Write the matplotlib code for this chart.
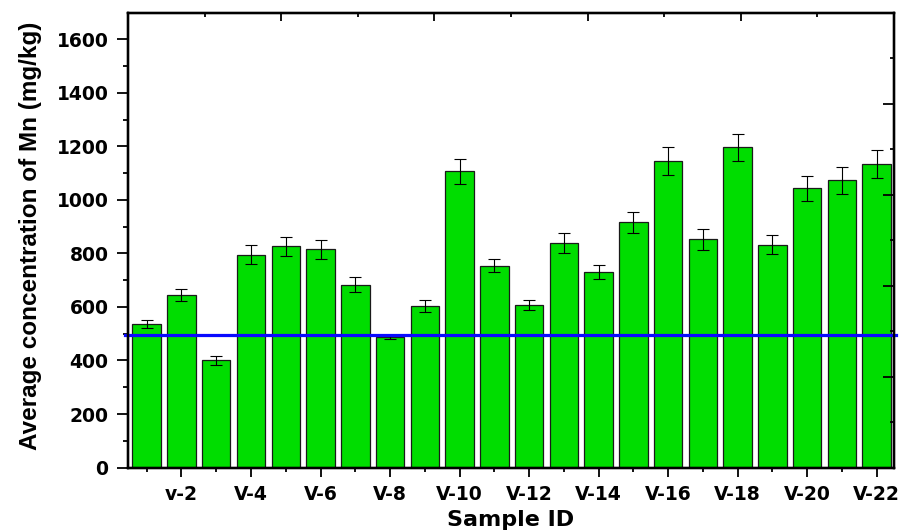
import numpy as np
import matplotlib
matplotlib.use('Agg')
import matplotlib.pyplot as plt
from matplotlib.ticker import FixedLocator, NullFormatter

# Sample IDs and measured Mn concentrations (mg/kg)
samples = ['V-1', 'v-2', 'V-3', 'V-4', 'V-5', 'V-6', 'V-7', 'V-8', 'V-9', 'V-10', 'V-11',
           'V-12', 'V-13', 'V-14', 'V-15', 'V-16', 'V-17', 'V-18', 'V-19', 'V-20', 'V-21', 'V-22']
mn_mean = [536, 646, 400, 796, 827, 815, 684, 488, 604, 1107, 754,
           607, 839, 731, 916, 1147, 853, 1197, 833, 1043, 1074, 1135]
mn_err = [15, 22, 17, 35, 36, 34, 29, 6, 21, 47, 25,
          20, 38, 27, 38, 52, 39, 50, 36, 48, 51, 53]
limit_value = 495  # reference line

x = np.arange(1, len(samples) + 1)

fig = plt.figure(figsize=(9.14, 5.32), dpi=100)
ax = fig.add_axes([0.1400, 0.1212, 0.8381, 0.855])

ax.bar(x, mn_mean, width=0.82, color='#00DD00', edgecolor='#1a1a1a', linewidth=0.9, zorder=2)
ax.errorbar(x, mn_mean, yerr=mn_err, fmt='none', ecolor='black', elinewidth=0.8,
            capsize=4, capthick=0.8, zorder=3)
ax.axhline(limit_value, xmin=-0.004, xmax=1.003, color='#0A0AFF', linewidth=2.3,
           zorder=4, clip_on=False)

ax.set_xlim(0.46, 22.5)
ax.set_ylim(0, 1700)

# x ticks: labels on even samples, minor ticks on odd ones
ax.xaxis.set_major_locator(FixedLocator(x[1::2]))
ax.set_xticklabels(samples[1::2])
ax.xaxis.set_minor_locator(FixedLocator(x[0::2]))
ax.set_yticks(np.arange(0, 1700, 200))
ax.yaxis.set_minor_locator(FixedLocator(np.arange(100, 1700, 200)))

tick_font = dict(family='DejaVu Sans', weight='bold', size=13.5)
for lab in ax.get_xticklabels() + ax.get_yticklabels():
    lab.set_fontproperties(matplotlib.font_manager.FontProperties(**tick_font))

ax.tick_params(axis='y', which='major', direction='out', length=8, width=1.3, pad=6)
ax.tick_params(axis='y', which='minor', direction='out', length=3.6, width=1.3)
ax.tick_params(axis='x', which='major', direction='out', length=6.5, width=1.3, pad=6)
ax.tick_params(axis='x', which='minor', direction='out', length=3, width=1.3)

for sp in ax.spines.values():
    sp.set_linewidth(1.6)

ax.set_xlabel('Sample ID', family='DejaVu Sans', fontweight='bold', fontsize=16)
ax.set_ylabel('Average concentration of Mn (mg/kg)', family=['Liberation Sans', 'DejaVu Sans'],
              fontweight='bold', fontsize=17.5)
ax.xaxis.set_label_coords(0.5, -0.093)
ax.yaxis.set_label_coords(-0.112, 0.51)

# top and right axes with inward ticks, no labels
ax_top = ax.twiny()
ax_top.set_xlim(0, 10)
ax_top.xaxis.set_major_locator(FixedLocator([2, 4, 6, 8]))
ax_top.xaxis.set_minor_locator(FixedLocator([1, 3, 5, 7, 9]))
ax_top.xaxis.set_major_formatter(NullFormatter())
ax_top.tick_params(axis='x', which='major', direction='in', length=6, width=1.3)
ax_top.tick_params(axis='x', which='minor', direction='in', length=3, width=1.3)

ax_right = ax.twinx()
ax_right.set_ylim(0, 10)
ax_right.yaxis.set_major_locator(FixedLocator([2, 4, 6, 8]))
ax_right.yaxis.set_minor_locator(FixedLocator([1, 3, 5, 7, 9]))
ax_right.yaxis.set_major_formatter(NullFormatter())
ax_right.tick_params(axis='y', which='major', direction='in', length=8, width=1.3)
ax_right.tick_params(axis='y', which='minor', direction='in', length=3, width=1.3)

for a in (ax_top, ax_right):
    for sp in a.spines.values():
        sp.set_linewidth(1.6)

fig.savefig('out.png', dpi=100)
